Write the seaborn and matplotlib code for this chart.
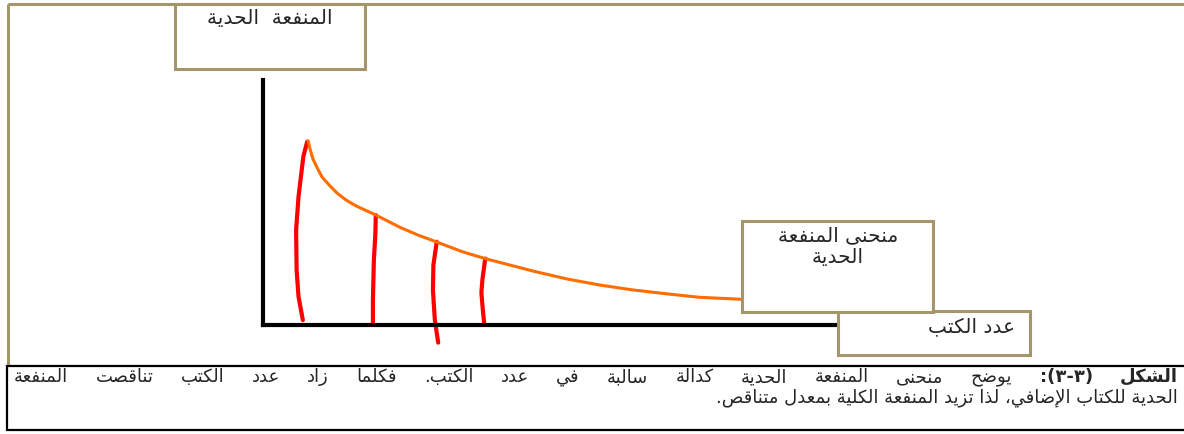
import re
import pandas as pd
import seaborn as sns
import matplotlib.pyplot as plt
from matplotlib.patches import Rectangle

# Marginal utility curve (x = number of books, y = marginal utility)
curve_books = [0.94, 0.98, 1.04, 1.13, 1.23, 1.38, 1.54, 1.73, 1.94, 2.15, 2.35, 2.60,
               2.85, 3.23, 3.60, 4.17, 4.63, 4.94, 5.63, 6.33, 7.02, 7.71, 8.42, 9.10, 9.96]
curve_mu = [7.52, 7.18, 6.78, 6.41, 6.04, 5.71, 5.39, 5.10, 4.86, 4.67, 4.49, 4.24,
            3.99, 3.67, 3.40, 2.98, 2.71, 2.55, 2.20, 1.88, 1.63, 1.43, 1.27, 1.13, 1.05]

# Hand drawn red strips under the curve
strip1_x = [0.92, 0.84, 0.74, 0.69, 0.70, 0.74, 0.83]
strip1_y = [7.48, 6.87, 5.24, 3.88, 2.24, 1.16, 0.20]
strip2_x = [2.35, 2.34, 2.31, 2.29, 2.29]
strip2_y = [4.49, 3.67, 2.65, 1.02, 0.04]
strip3_x = [3.62, 3.55, 3.54, 3.58, 3.65]
strip3_y = [3.40, 2.45, 1.43, 0.20, -0.72]
strip4_x = [4.63, 4.57, 4.55, 4.58, 4.61]
strip4_y = [2.71, 1.84, 1.31, 0.61, 0.04]

# Labels
y_label = "المنفعة  الحدية"
curve_label = ["منحنى المنفعة", "الحدية"]
x_label = "عدد الكتب"
caption_bold = "الشكل (٣-٣):"
caption_line1 = "يوضح منحنى المنفعة الحدية كدالة سالبة في عدد الكتب. فكلما زاد عدد الكتب تناقصت المنفعة"
caption_line2 = "الحدية للكتاب الإضافي، لذا تزيد المنفعة الكلية بمعدل متناقص."

# --- simple Arabic shaping (matplotlib has no text shaping / bidi) ---
# isolated, final, initial, medial
FORMS = {
    'ء': (0xFE80, None, None, None), 'آ': (0xFE81, 0xFE82, None, None),
    'أ': (0xFE83, 0xFE84, None, None), 'ؤ': (0xFE85, 0xFE86, None, None),
    'إ': (0xFE87, 0xFE88, None, None), 'ئ': (0xFE89, 0xFE8A, 0xFE8B, 0xFE8C),
    'ا': (0xFE8D, 0xFE8E, None, None), 'ب': (0xFE8F, 0xFE90, 0xFE91, 0xFE92),
    'ة': (0xFE93, 0xFE94, None, None), 'ت': (0xFE95, 0xFE96, 0xFE97, 0xFE98),
    'ث': (0xFE99, 0xFE9A, 0xFE9B, 0xFE9C), 'ج': (0xFE9D, 0xFE9E, 0xFE9F, 0xFEA0),
    'ح': (0xFEA1, 0xFEA2, 0xFEA3, 0xFEA4), 'خ': (0xFEA5, 0xFEA6, 0xFEA7, 0xFEA8),
    'د': (0xFEA9, 0xFEAA, None, None), 'ذ': (0xFEAB, 0xFEAC, None, None),
    'ر': (0xFEAD, 0xFEAE, None, None), 'ز': (0xFEAF, 0xFEB0, None, None),
    'س': (0xFEB1, 0xFEB2, 0xFEB3, 0xFEB4), 'ش': (0xFEB5, 0xFEB6, 0xFEB7, 0xFEB8),
    'ص': (0xFEB9, 0xFEBA, 0xFEBB, 0xFEBC), 'ض': (0xFEBD, 0xFEBE, 0xFEBF, 0xFEC0),
    'ط': (0xFEC1, 0xFEC2, 0xFEC3, 0xFEC4), 'ظ': (0xFEC5, 0xFEC6, 0xFEC7, 0xFEC8),
    'ع': (0xFEC9, 0xFECA, 0xFECB, 0xFECC), 'غ': (0xFECD, 0xFECE, 0xFECF, 0xFED0),
    'ف': (0xFED1, 0xFED2, 0xFED3, 0xFED4), 'ق': (0xFED5, 0xFED6, 0xFED7, 0xFED8),
    'ك': (0xFED9, 0xFEDA, 0xFEDB, 0xFEDC), 'ل': (0xFEDD, 0xFEDE, 0xFEDF, 0xFEE0),
    'م': (0xFEE1, 0xFEE2, 0xFEE3, 0xFEE4), 'ن': (0xFEE5, 0xFEE6, 0xFEE7, 0xFEE8),
    'ه': (0xFEE9, 0xFEEA, 0xFEEB, 0xFEEC), 'و': (0xFEED, 0xFEEE, None, None),
    'ى': (0xFEEF, 0xFEF0, None, None), 'ي': (0xFEF1, 0xFEF2, 0xFEF3, 0xFEF4),
}
LAM_ALEF = {'آ': (0xFEF5, 0xFEF6), 'أ': (0xFEF7, 0xFEF8),
            'إ': (0xFEF9, 0xFEFA), 'ا': (0xFEFB, 0xFEFC)}
MIRROR = {'(': ')', ')': '('}


def shape(text):
    units = []
    i = 0
    while i < len(text):
        c = text[i]
        if c == 'ل' and i + 1 < len(text) and text[i + 1] in LAM_ALEF:
            iso, fin = LAM_ALEF[text[i + 1]]
            units.append((c, (iso, fin, None, None)))
            i += 2
        else:
            units.append((c, FORMS.get(c)))
            i += 1
    out = []
    for k, (c, f) in enumerate(units):
        if f is None:
            out.append(c)
            continue
        prev = units[k - 1][1] if k > 0 else None
        nxt = units[k + 1][1] if k + 1 < len(units) else None
        jp = prev is not None and prev[2] is not None
        jn = f[2] is not None and nxt is not None and nxt[1] is not None
        code = f[3] if (jp and jn) else f[1] if jp else f[2] if jn else f[0]
        out.append(chr(code))
    return ''.join(out)


def rtl(text):
    runs = re.findall(r'[0-9\u0660-\u0669]+|[^0-9\u0660-\u0669]', shape(text))
    return ''.join(MIRROR.get(r, r) for r in reversed(runs))


# --- figure ---
sns.set_theme(style='white')
plt.rcParams['font.family'] = ['DejaVu Sans']

W, H = 1184, 434
fig = plt.figure(figsize=(W / 100, H / 100), dpi=100)
fig.patch.set_facecolor('white')

# chart axes: origin at (263, 325) px, x axis to 838 px, y axis up to 80 px
ax = fig.add_axes([263 / W, (H - 325) / H, (838 - 263) / W, (325 - 80) / H])
ax.set_xlim(0, 575 / 48)
ax.set_ylim(0, 10)
ax.patch.set_alpha(0)

strips = pd.DataFrame({
    'books': strip1_x + strip2_x + strip3_x + strip4_x,
    'mu': strip1_y + strip2_y + strip3_y + strip4_y,
    'strip': [1] * len(strip1_x) + [2] * len(strip2_x) + [3] * len(strip3_x) + [4] * len(strip4_x),
})
sns.lineplot(data=strips, x='books', y='mu', units='strip', estimator=None, sort=False,
             color='#ff0000', lw=3, solid_capstyle='round', ax=ax)
sns.lineplot(x=curve_books, y=curve_mu, sort=False, color='#ff6d00', lw=2.2,
             solid_joinstyle='round', ax=ax)
for ln in ax.lines:
    ln.set_clip_on(False)

sns.despine(ax=ax)
for side in ['left', 'bottom']:
    ax.spines[side].set_linewidth(3)
    ax.spines[side].set_color('black')
    ax.spines[side].set_capstyle('projecting')
ax.set_xticks([])
ax.set_yticks([])
ax.set_xlabel('')
ax.set_ylabel('')

# overlay in pixel units for frames, boxes and text
ov = fig.add_axes([0, 0, 1, 1], zorder=3)
ov.set_xlim(0, W)
ov.set_ylim(H, 0)
ov.axis('off')

tan = '#a5956a'
ov.add_patch(Rectangle((8, 4), 1200, 362, fill=False, ec=tan, lw=2.2))
ov.add_patch(Rectangle((175, 4), 190, 65, fc='white', ec=tan, lw=2.2))
ov.add_patch(Rectangle((838, 311), 192, 44, fc='white', ec=tan, lw=2.2))
ov.add_patch(Rectangle((742, 221), 191, 91, fc='white', ec=tan, lw=2.2))
ov.add_patch(Rectangle((7, 366), 1200, 64, fc='white', ec='black', lw=1.6))

lab_fs = 14.5
ov.text(270, 24, rtl(y_label), fontsize=lab_fs, ha='center', va='baseline')
ov.text(838, 241, rtl(curve_label[0]), fontsize=lab_fs, ha='center', va='baseline')
ov.text(838, 263, rtl(curve_label[1]), fontsize=lab_fs, ha='center', va='baseline')
ov.text(1015, 332, rtl(x_label), fontsize=lab_fs, ha='right', va='baseline')

# caption: first line justified word by word, second line right aligned
cap_fs = 13
fig.canvas.draw()
r = fig.canvas.get_renderer()
words = [(w, 'bold') for w in caption_bold.split()] + [(w, 'normal') for w in caption_line1.split()]
arts = [ov.text(0, 382, rtl(w), fontsize=cap_fs, fontweight=wt, ha='left', va='baseline')
        for w, wt in words]
widths = [a.get_window_extent(r).width for a in arts]
gap = (1178 - 14 - sum(widths)) / (len(arts) - 1)
x = 1178
for a, w in zip(arts, widths):
    a.set_x(x - w)
    x -= w + gap
ov.text(1178, 402, rtl(caption_line2), fontsize=cap_fs, ha='right', va='baseline')

fig.savefig('out.png', dpi=100)
